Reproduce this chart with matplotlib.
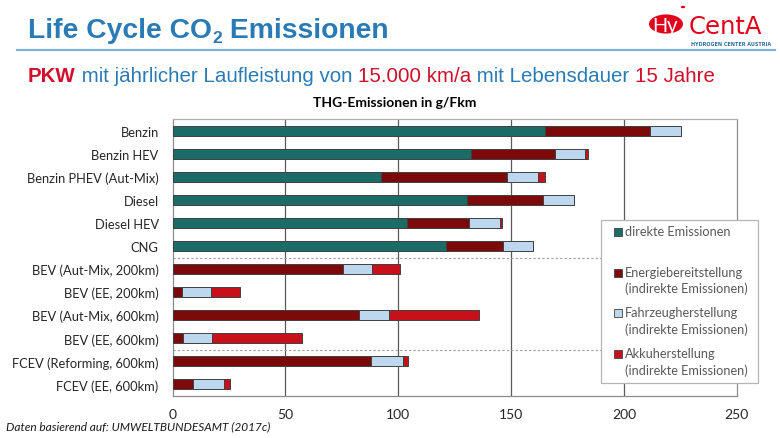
import matplotlib.pyplot as plt
from matplotlib.patches import Rectangle, Circle
from matplotlib.lines import Line2D

# Daten (g/Fkm), von oben nach unten
fahrzeuge = ["Benzin", "Benzin HEV", "Benzin PHEV (Aut-Mix)", "Diesel", "Diesel HEV", "CNG",
             "BEV (Aut-Mix, 200km)", "BEV (EE, 200km)", "BEV (Aut-Mix, 600km)", "BEV (EE, 600km)",
             "FCEV (Reforming, 600km)", "FCEV (EE, 600km)"]
direkt = [165.2, 132.1, 92.3, 130.3, 104.1, 121.1, 0, 0, 0, 0, 0, 0]
energie = [46.3, 37.3, 56.1, 34.0, 27.4, 25.5, 75.3, 4.0, 82.8, 4.5, 88.0, 9.1]
fahrzeug = [13.9, 13.3, 13.4, 13.8, 13.5, 13.3, 12.9, 13.2, 13.1, 13.1, 13.9, 13.8]
akku = [0, 1.3, 3.3, 0, 1.1, 0, 12.5, 12.6, 39.9, 39.9, 2.5, 2.6]

serien = ["direkte Emissionen",
          "Energiebereitstellung\n(indirekte Emissionen)",
          "Fahrzeugherstellung\n(indirekte Emissionen)",
          "Akkuherstellung\n(indirekte Emissionen)"]
farben = ["#1b6b67", "#7c0a0a", "#bdd7ee", "#c8101a"]
x_ticks = [0, 50, 100, 150, 200, 250]
trenner = [5.5, 9.5]

W, H = 780, 439
BLAU = "#2a7bb5"
ROT = "#d0112b"
TXT = "Lato"


def px(x, y):
    return x / W, 1 - y / H


fig = plt.figure(figsize=(7.8, 4.39), dpi=100)
renderer = fig.canvas.get_renderer()
ax = fig.add_axes([172.6 / W, 1 - 397 / H, (736.7 - 172.6) / W, (397 - 120) / H])

# gestapelte Balken
pos = list(range(len(fahrzeuge)))
links = [0] * len(fahrzeuge)
for werte, farbe in zip([direkt, energie, fahrzeug, akku], farben):
    ax.barh(pos, werte, left=links, height=0.43, color=farbe,
            edgecolor="#404040", linewidth=0.7, zorder=3)
    links = [l + w for l, w in zip(links, werte)]

ax.set_xlim(0, 250)
ax.set_ylim(len(fahrzeuge) - 0.5, -0.5)
ax.set_xticks(x_ticks)
ax.set_yticks(pos)
ax.set_yticklabels(fahrzeuge, family=TXT, fontsize=9.3, color="#262626")
ax.set_xticklabels([str(t) for t in x_ticks], family=TXT, fontsize=10, color="#262626")
ax.tick_params(axis="y", length=0, pad=10)
ax.tick_params(axis="x", length=0, pad=9)
for t in x_ticks[1:-1]:
    ax.axvline(t, color="#5a5a5a", lw=0.9, zorder=1)
for y in trenner:
    ax.axhline(y, color="#9a9a9a", lw=0.8, ls=(0, (2, 2)), zorder=1)
for s in ax.spines.values():
    s.set_color("#8c8c8c")
    s.set_linewidth(0.9)
ax.spines["top"].set_color("#b0b0b0")

# Legende (manuell, wie im Original)
lx0, ly0, lx1, ly1 = 601, 221, 758, 384
fig.patches.append(Rectangle(px(lx0, ly1), (lx1 - lx0) / W, (ly1 - ly0) / H,
                             transform=fig.transFigure, facecolor="white",
                             edgecolor="#b5b5b5", lw=0.9, zorder=5))
for i, (lab, farbe) in enumerate(zip(serien, farben)):
    y = 233 + i * 40.7
    fig.patches.append(Rectangle(px(614, y + 4), 8 / W, 8 / H, transform=fig.transFigure,
                                 facecolor=farbe, edgecolor="#404040", lw=0.6, zorder=6))
    fig.text(*px(625, y - 7), lab, family=TXT, fontsize=9.2, color="#595959",
             va="top", ha="left", linespacing=1.4, zorder=6)

# Titel mit tiefgestellter 2
x = 28
for txt, fs, dy in [("Life Cycle CO", 20.3, 0), ("2", 12.5, 5), (" Emissionen", 20.3, 0)]:
    t = fig.text(*px(x, 38 + dy), txt, family="Liberation Sans", fontweight="bold",
                 fontsize=fs, color=BLAU, va="baseline")
    x += t.get_window_extent(renderer).width
fig.add_artist(Line2D([17 / W, 775 / W], [1 - 51 / H] * 2, color="#7ab3d6", lw=1.6))

# Untertitel mehrfarbig
teile = [("PKW", ROT, "bold"), (" mit jährlicher Laufleistung von ", BLAU, "normal"),
         ("15.000 km/a", ROT, "normal"), (" mit Lebensdauer ", BLAU, "normal"),
         ("15 Jahre", ROT, "normal")]
x = 28
for txt, col, fw in teile:
    t = fig.text(*px(x, 82), txt, family="Liberation Sans",
                 fontsize=14.8, color=col, fontweight=fw, va="baseline")
    x += t.get_window_extent(renderer).width

fig.text(*px(395, 103), "THG-Emissionen in g/Fkm", family=TXT, fontweight="bold",
         fontsize=10, color="black", ha="center", va="center")

fig.text(*px(6, 427), "Daten basierend auf: UMWELTBUNDESAMT (2017c)", family=TXT,
         style="italic", fontsize=8.6, color="#1a1a1a", va="center")

# Logo
fig.patches.append(Circle(px(666, 25), 17 / W, transform=fig.transFigure,
                          facecolor="#e2001a", edgecolor="none"))
fig.patches.append(Circle(px(683, 8), 2.2 / W, transform=fig.transFigure,
                          facecolor="#e2001a", edgecolor="none"))
fig.text(*px(665, 27), "Hy", family="Liberation Sans", fontsize=15, color="white",
         ha="center", va="center")
fig.text(*px(689, 27), "CentA", family="DejaVu Sans", fontsize=17.5, color="#e2001a",
         ha="left", va="center")
fig.text(*px(691, 44), "HYDROGEN CENTER AUSTRIA", family="DejaVu Sans Condensed",
         fontweight="bold", fontsize=3.5, color="#2a6f97", ha="left", va="center")

fig.savefig("out.png", dpi=100)
